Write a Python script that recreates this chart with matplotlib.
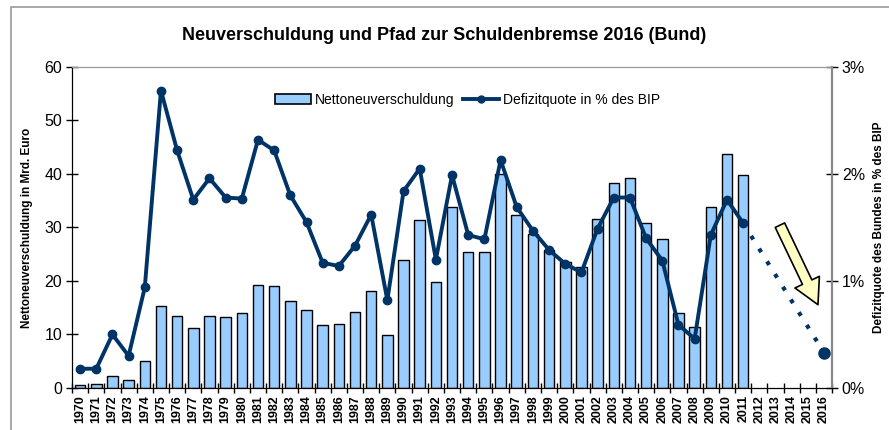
import matplotlib.pyplot as plt
import matplotlib.patches as mpatches
from matplotlib.lines import Line2D
from matplotlib.ticker import FuncFormatter

TITLE = "Neuverschuldung und Pfad zur Schuldenbremse 2016 (Bund)"
YLABEL_L = "Nettoneuverschuldung in Mrd. Euro"
YLABEL_R = "Defizitquote des Bundes in % des BIP"
LEG_BAR = "Nettoneuverschuldung"
LEG_LINE = "Defizitquote in % des BIP"

# x categories (1970 .. 2016)
years = [str(y) for y in range(1970, 2017)]

# Nettoneuverschuldung, Mrd. Euro (1970 .. 2011)
debt = [0.6, 0.8, 2.2, 1.5, 5.1, 15.4, 13.4, 11.3, 13.4, 13.2,
        14.0, 19.2, 19.0, 16.2, 14.5, 11.7, 11.9, 14.2, 18.1, 9.9,
        24.0, 31.4, 19.9, 33.8, 25.4, 25.4, 40.0, 32.4, 28.7, 25.8,
        23.5, 22.6, 31.6, 38.3, 39.2, 30.9, 27.8, 14.1, 11.4, 33.9,
        43.8, 39.8]

# Defizitquote in % des BIP (1970 .. 2011)
ratio = [0.18, 0.18, 0.50, 0.30, 0.94, 2.78, 2.22, 1.76, 1.96, 1.78,
         1.77, 2.32, 2.22, 1.80, 1.55, 1.17, 1.14, 1.33, 1.62, 0.82,
         1.84, 2.05, 1.20, 1.99, 1.43, 1.39, 2.13, 1.69, 1.47, 1.29,
         1.16, 1.08, 1.49, 1.78, 1.78, 1.40, 1.19, 0.59, 0.46, 1.43,
         1.76, 1.54]

# Pfad zur Schuldenbremse
path_years = ["2011", "2016"]
path_ratio = [1.54, 0.33]

BAR_C = "#99CCFF"
LINE_C = "#003366"
FONT = ["Liberation Sans Narrow", "Liberation Sans", "DejaVu Sans"]

plt.rcParams["font.family"] = FONT

fig = plt.figure(figsize=(8.89, 4.30), dpi=100)
ax = fig.add_axes([0.081, 0.0977, 0.855, 0.7465])
ax2 = ax.twinx()

xpos = {y: i for i, y in enumerate(years)}
bx = [xpos[y] for y in years[:len(debt)]]
ax.bar(bx, debt, width=0.65, color=BAR_C, edgecolor="black", linewidth=1.0, zorder=2)

lx = [xpos[y] for y in years[:len(ratio)]]
ax2.plot(lx, ratio, color=LINE_C, lw=2.8, marker="o", ms=6, zorder=3)
px = [xpos[y] for y in path_years]
ax2.plot(px, path_ratio, color=LINE_C, lw=3, dashes=(1, 2.6), zorder=3)
ax2.plot(px[-1:], path_ratio[-1:], color=LINE_C, marker="o", ms=8, ls="none", zorder=3)

ax.set_xlim(-0.5, len(years) - 0.5)
ax.set_ylim(0, 60)
ax2.set_ylim(0, 3)
ax.set_yticks(range(0, 61, 10))
ax2.set_yticks([0, 1, 2, 3])
ax2.yaxis.set_major_formatter(FuncFormatter(lambda v, p: f"{v:.0f}%"))

ax.set_xticks(range(len(years)))
ax.set_xticklabels(years, rotation=90, fontsize=9, fontweight="bold")
ax.set_xticks([i - 0.5 for i in range(len(years) + 1)], minor=True)
ax.tick_params(axis="x", which="major", length=0, pad=5)
ax.tick_params(axis="x", which="minor", direction="inout", length=7, width=1)
ax.tick_params(axis="y", direction="inout", length=8, width=1, labelsize=11.5, pad=3)
ax2.tick_params(axis="y", direction="inout", length=8, width=1, labelsize=11.5, pad=3)

for a in (ax, ax2):
    a.spines["top"].set_color("#999999")
    a.spines["right"].set_color("#888888")
    a.spines["right"].set_linewidth(1.5)
    a.spines["left"].set_color("black")
    a.spines["bottom"].set_color("black")

ax.set_ylabel(YLABEL_L, fontsize=8.5, fontweight="bold", labelpad=8)
ax2.set_ylabel(YLABEL_R, fontsize=8.5, fontweight="bold", labelpad=6)

fig.text(0.5, 1 - 35 / 430, TITLE, ha="center", va="center",
         fontsize=13, fontweight="bold", family=["Liberation Sans", "DejaVu Sans"])

handles = [mpatches.Patch(facecolor=BAR_C, edgecolor="black", lw=1.2),
           Line2D([], [], color=LINE_C, lw=2.8, marker="o", ms=5)]
ax.legend(handles, [LEG_BAR, LEG_LINE], loc="center", bbox_to_anchor=(0.52, 0.897),
          ncol=2, frameon=False, fontsize=10, handlelength=2.6, handletextpad=0.3,
          columnspacing=0.6)

# Pfeil
ax.annotate("", xy=(45.7, 15.1), xytext=(43.2, 30.9),
            arrowprops=dict(arrowstyle="simple,head_width=1.3,head_length=1.2,tail_width=0.5",
                            fc="#FFFFC4", ec="black", lw=1.2, mutation_scale=15),
            zorder=5)

# outer frame
fig.patches.append(mpatches.Rectangle((11 / 889, -0.1), 1.2, 1 - 7 / 430 + 0.1,
                                      transform=fig.transFigure, fill=False,
                                      edgecolor="#999999", lw=1.2))

fig.savefig("out.png", dpi=100)
